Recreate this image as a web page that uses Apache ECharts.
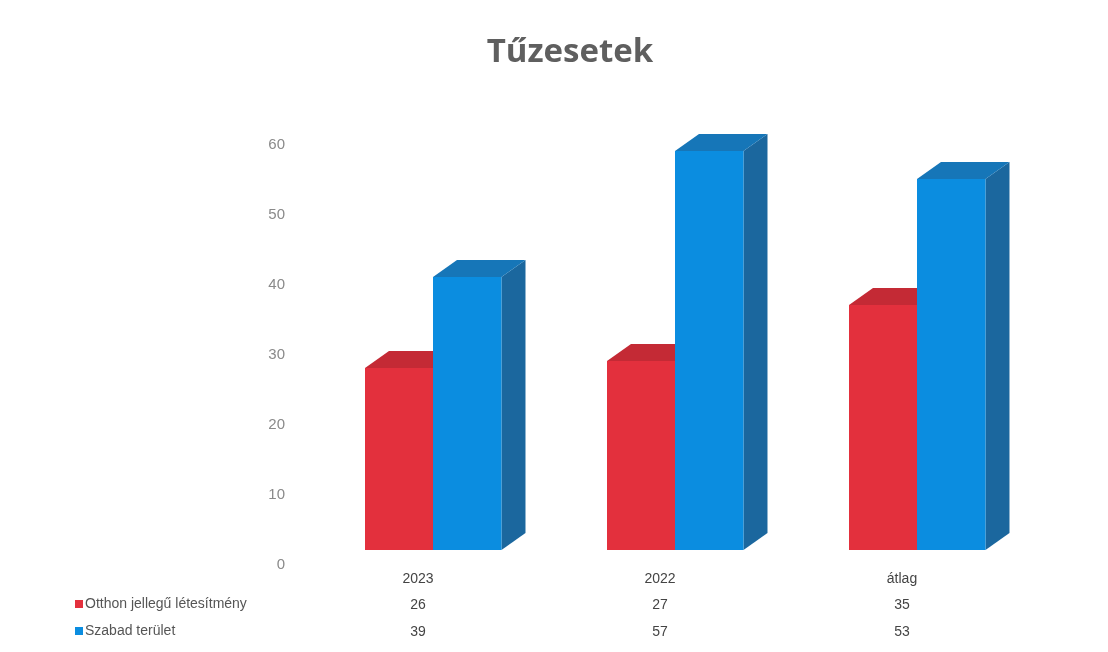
<!DOCTYPE html>
<html><head><meta charset="utf-8">
<script src="https://cdn.jsdelivr.net/npm/echarts@6/dist/echarts.min.js"></script>
<style>html,body{margin:0;padding:0;background:#fff}#c{width:1108px;height:652px}</style>
</head><body><div id="c"></div>
<script>
const title = 'Tűzesetek';
const categories = ['2023', '2022', 'átlag'];
const seriesNames = ['Otthon jellegű létesítmény', 'Szabad terület'];
const otthon = [26, 27, 35];
const szabad = [39, 57, 53];
const yTicks = [0, 10, 20, 30, 40, 50, 60];

const chart = echarts.init(document.getElementById('c'));
const FONT = 'Liberation Sans';

function make3D(offsetFrac, widthFrac, cFront, cTop, cSide) {
  return function (params, api) {
    const cat = api.value(0), v = api.value(1);
    const base = api.coord([cat, 0]);
    const top = api.coord([cat, v]);
    const band = api.size([1, 0])[0];
    const w = band * widthFrac;
    const lift = 15, dx = 24, dy = 17;
    const x0 = base[0] + offsetFrac * band;
    const yb = base[1] - lift, yt = top[1] - lift;
    return {
      type: 'group',
      children: [
        { type: 'polygon', shape: { points: [[x0 + w, yt], [x0 + w + dx, yt - dy], [x0 + w + dx, yb - dy], [x0 + w, yb]] }, style: { fill: cSide } },
        { type: 'polygon', shape: { points: [[x0, yt], [x0 + dx, yt - dy], [x0 + w + dx, yt - dy], [x0 + w, yt]] }, style: { fill: cTop } },
        { type: 'rect', shape: { x: x0, y: yt, width: w, height: yb - yt }, style: { fill: cFront } }
      ]
    };
  };
}

chart.setOption({
  backgroundColor: '#fff',
  title: {
    text: title, left: 565, textAlign: 'center', top: 31,
    textStyle: { fontFamily: 'Open Sans', fontWeight: 'bold', fontSize: 33, color: '#5f5f5f' }
  },
  legend: {
    orient: 'vertical', left: 70, top: 592, itemGap: 13,
    icon: 'rect', itemWidth: 8, itemHeight: 8,
    textStyle: { fontFamily: FONT, fontSize: 14, color: '#555', padding: [0, 0, 0, -3] },
    data: seriesNames
  },
  grid: { left: 297, right: 85, top: 145, bottom: 87 },
  xAxis: {
    type: 'category', data: categories,
    axisLine: { show: false }, axisTick: { show: false },
    splitLine: { show: false },
    axisLabel: {
      margin: 1,
      formatter: function (val, idx) {
        return '{c|' + val + '}\n{v|' + otthon[idx] + '}\n{v|' + szabad[idx] + '}';
      },
      rich: {
        c: { fontFamily: FONT, fontSize: 14, color: '#444', lineHeight: 26 },
        v: { fontFamily: FONT, fontSize: 14, color: '#444', lineHeight: 27 }
      }
    }
  },
  yAxis: {
    type: 'value', min: yTicks[0], max: yTicks[yTicks.length - 1], interval: 10,
    axisLine: { show: false }, axisTick: { show: false }, splitLine: { show: false },
    axisLabel: { margin: 12, fontFamily: FONT, fontSize: 15, color: '#8a8a8a' }
  },
  series: [
    {
      name: seriesNames[0], type: 'custom', itemStyle: { color: '#e3303d' },
      renderItem: make3D(-0.219, 0.283, '#e3303d', '#c42a35', '#a82530'),
      encode: { x: 0, y: 1 },
      data: categories.map((c, i) => [i, otthon[i]])
    },
    {
      name: seriesNames[1], type: 'custom', itemStyle: { color: '#0b8de0' },
      renderItem: make3D(0.062, 0.283, '#0b8de0', '#1676b8', '#1b679e'),
      encode: { x: 0, y: 1 },
      data: categories.map((c, i) => [i, szabad[i]])
    }
  ]
});
</script></body></html>
